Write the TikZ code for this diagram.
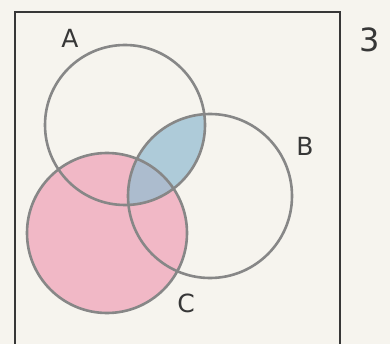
\documentclass[tikz,border=0pt]{standalone}
\usepackage{fontspec}
\setmainfont{DejaVu Sans}
\definecolor{paper}{RGB}{246,244,238}
\definecolor{pinkfill}{RGB}{240,170,188}
\definecolor{bluefill}{RGB}{150,190,210}
\definecolor{pencil}{RGB}{135,135,135}
\definecolor{ink}{RGB}{55,55,55}
\tikzset{
  setcircle/.style={draw=pencil, line width=2.6pt},
  frame/.style={draw=ink, line width=2pt},
  setlabel/.style={font=\fontsize{25}{27}\selectfont, text=ink, inner sep=0pt}
}
\begin{document}
\begin{tikzpicture}[x=1pt,y=-1pt]
\useasboundingbox (0,0) rectangle (390,344);
\fill[paper] (0,0) rectangle (390,344);
\coordinate (cA) at (125,125);
\coordinate (cB) at (210,196);
\coordinate (cC) at (107,233);
% fills
\fill[pinkfill, opacity=0.8] (cC) circle[radius=80];
\begin{scope}
  \clip (cA) circle[radius=80];
  \fill[bluefill, opacity=0.75] (cB) circle[radius=82];
\end{scope}
% frame
\draw[frame] (15,12) rectangle (340,360);
% circles
\draw[setcircle] (cA) circle[radius=80];
\draw[setcircle] (cB) circle[radius=82];
\draw[setcircle] (cC) circle[radius=80];
% labels
\node[setlabel] (lA) at (70,38) {A};
\node[setlabel] (lB) at (305,146) {B};
\node[setlabel] (lC) at (186,303) {C};
\node[setlabel, font=\fontsize{32}{34}\selectfont] (lU) at (370,40) {3};
\end{tikzpicture}
\end{document}
